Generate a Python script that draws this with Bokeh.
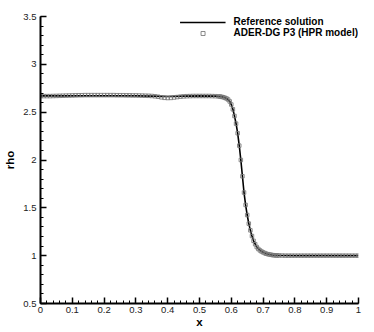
from bokeh.plotting import figure
from bokeh.models import Legend, LegendItem, FixedTicker
from bokeh.embed import file_html
from bokeh.resources import INLINE

# Reference solution (solid line)
ref_x = [0.0, 0.05, 0.1, 0.15, 0.2, 0.25, 0.3, 0.35, 0.38, 0.4, 0.42, 0.45, 0.5, 0.55,
         0.57, 0.58, 0.59, 0.595, 0.6, 0.605, 0.61, 0.615, 0.62, 0.625, 0.63, 0.635,
         0.64, 0.645, 0.65, 0.655, 0.66, 0.665, 0.67, 0.68, 0.69, 0.7, 0.71, 0.72,
         0.73, 0.75, 0.8, 0.9, 1.0]
ref_rho = [2.67, 2.67, 2.67, 2.67, 2.67, 2.67, 2.67, 2.668, 2.665, 2.663, 2.665, 2.668, 2.67, 2.668,
           2.662, 2.652, 2.632, 2.612, 2.58, 2.53, 2.46, 2.38, 2.28, 2.15, 2.0, 1.83,
           1.66, 1.53, 1.425, 1.335, 1.265, 1.205, 1.155, 1.09, 1.055, 1.035, 1.02, 1.012,
           1.006, 1.002, 1.0, 1.0, 1.0]

# ADER-DG P3 (HPR model) (square markers)
dg_x = [0.0, 0.01, 0.02, 0.03, 0.04, 0.05, 0.06, 0.07, 0.08, 0.09,
        0.1, 0.11, 0.12, 0.13, 0.14, 0.15, 0.16, 0.17, 0.18, 0.19,
        0.2, 0.21, 0.22, 0.23, 0.24, 0.25, 0.26, 0.27, 0.28, 0.29,
        0.3, 0.31, 0.32, 0.33, 0.34, 0.35, 0.36, 0.37, 0.38, 0.39,
        0.4, 0.41, 0.42, 0.43, 0.44, 0.45, 0.46, 0.47, 0.48, 0.49,
        0.5, 0.51, 0.52, 0.53, 0.54, 0.55, 0.56, 0.565, 0.57, 0.575,
        0.58, 0.585, 0.59, 0.595, 0.6, 0.605, 0.61, 0.615, 0.62, 0.625,
        0.63, 0.635, 0.64, 0.645, 0.65, 0.655, 0.66, 0.665, 0.67, 0.675,
        0.68, 0.685, 0.69, 0.695, 0.7, 0.705, 0.71, 0.715, 0.72, 0.725,
        0.73, 0.735, 0.74, 0.745, 0.75, 0.76, 0.77, 0.78, 0.79, 0.8,
        0.81, 0.82, 0.83, 0.84, 0.85, 0.86, 0.87, 0.88, 0.89, 0.9,
        0.91, 0.92, 0.93, 0.94, 0.95, 0.96, 0.97, 0.98, 0.99, 1.0]
dg_rho = [2.668, 2.668, 2.668, 2.668, 2.669, 2.67, 2.671, 2.672, 2.673, 2.674,
          2.675, 2.676, 2.677, 2.677, 2.678, 2.678, 2.678, 2.678, 2.678, 2.678,
          2.678, 2.678, 2.678, 2.678, 2.677, 2.677, 2.677, 2.676, 2.676, 2.675,
          2.675, 2.674, 2.673, 2.672, 2.671, 2.669, 2.666, 2.661, 2.655, 2.65,
          2.648, 2.649, 2.653, 2.658, 2.662, 2.665, 2.667, 2.668, 2.669, 2.669,
          2.669, 2.669, 2.669, 2.669, 2.668, 2.667, 2.665, 2.663, 2.66, 2.656,
          2.65, 2.643, 2.632, 2.612, 2.58, 2.53, 2.46, 2.38, 2.28, 2.15,
          2.0, 1.83, 1.66, 1.53, 1.425, 1.335, 1.265, 1.205, 1.155, 1.12,
          1.09, 1.07, 1.055, 1.044, 1.035, 1.027, 1.02, 1.016, 1.012, 1.009,
          1.006, 1.004, 1.003, 1.002, 1.002, 1.001, 1.0, 1.0, 1.0, 1.0,
          1.0, 1.0, 1.0, 1.0, 1.0, 1.0, 1.0, 1.0, 1.0, 1.0,
          1.0, 1.0, 1.0, 1.0, 1.0, 1.0, 1.0, 1.0, 1.0, 1.0]

x_ticks = [0.0, 0.1, 0.2, 0.3, 0.4, 0.5, 0.6, 0.7, 0.8, 0.9, 1.0]
x_tick_labels = ["0", "0.1", "0.2", "0.3", "0.4", "0.5", "0.6", "0.7", "0.8", "0.9", "1"]
x_minor = [i / 50 for i in range(51)]
y_ticks = [0.5, 1.0, 1.5, 2.0, 2.5, 3.0, 3.5]
y_tick_labels = ["0.5", "1", "1.5", "2", "2.5", "3", "3.5"]
y_minor = [0.5 + i / 10 for i in range(31)]

p = figure(width=366, height=332, x_range=(0, 1), y_range=(0.5, 3.5),
           output_backend="svg", toolbar_location=None,
           min_border_left=40, min_border_right=8, min_border_top=16, min_border_bottom=29)
p.outline_line_color = None
p.xgrid.visible = False
p.ygrid.visible = False
p.background_fill_color = "white"
p.border_fill_color = "white"

r_line = p.line(ref_x, ref_rho, line_color="black", line_width=1.6)
r_sq = p.scatter(dg_x, dg_rho, marker="square", size=3.5, fill_color=None,
                 line_color="#777777", line_width=1, line_alpha=0.85)

p.xaxis.ticker = FixedTicker(ticks=x_ticks, minor_ticks=x_minor)
p.yaxis.ticker = FixedTicker(ticks=y_ticks, minor_ticks=y_minor)
p.xaxis.major_label_overrides = {t: l for t, l in zip(x_ticks, x_tick_labels)}
p.yaxis.major_label_overrides = {t: l for t, l in zip(y_ticks, y_tick_labels)}

for ax in (p.xaxis, p.yaxis):
    ax.axis_line_color = "black"
    ax.axis_line_width = 2
    ax.major_tick_in = 6
    ax.major_tick_out = 0
    ax.minor_tick_in = 3
    ax.minor_tick_out = 0
    ax.major_tick_line_width = 1.5
    ax.minor_tick_line_width = 1
    ax.major_tick_line_color = "black"
    ax.minor_tick_line_color = "black"
    ax.major_label_text_font = "Liberation Sans"
    ax.major_label_text_font_size = "9.5px"
    ax.major_label_text_color = "#222222"
    ax.axis_label_text_font = "Liberation Sans"
    ax.axis_label_text_font_size = "11.5px"
    ax.axis_label_text_font_style = "bold"
    ax.axis_label_text_color = "black"

p.xaxis.axis_label = "x"
p.yaxis.axis_label = "rho"
p.xaxis.major_label_standoff = 3
p.xaxis.axis_label_standoff = 0
p.yaxis.major_label_standoff = 4
p.yaxis.axis_label_standoff = 4

legend = Legend(items=[LegendItem(label="Reference solution", renderers=[r_line]),
                       LegendItem(label="ADER-DG P3 (HPR model)", renderers=[r_sq])],
                location="top_right")
legend.label_text_font = "Liberation Sans"
legend.label_text_font_size = "10px"
legend.label_text_font_style = "bold"
legend.label_text_color = "black"
legend.glyph_width = 46
legend.glyph_height = 10
legend.label_height = 10
legend.spacing = 0
legend.padding = 0
legend.margin = 0
legend.label_standoff = 8
legend.border_line_color = None
legend.background_fill_alpha = 0
p.add_layout(legend)

open("out.html", "w").write(file_html(p, INLINE))
